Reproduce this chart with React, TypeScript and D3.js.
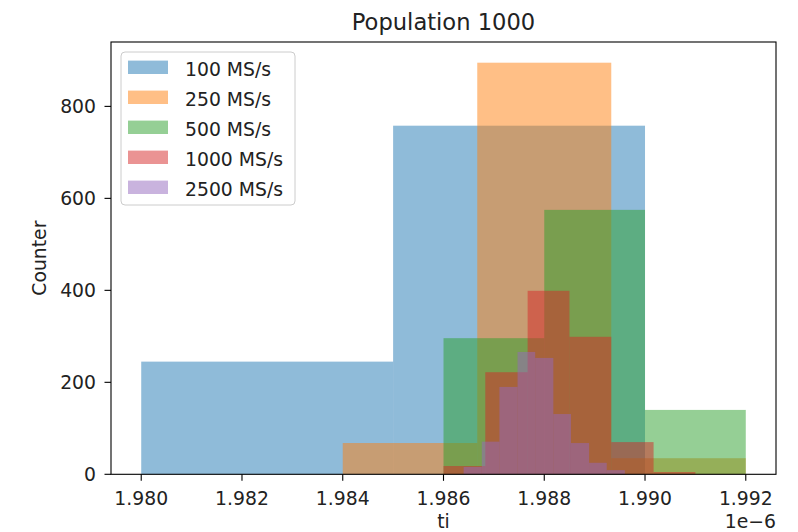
import React from 'react';
import { scaleLinear } from 'd3';

const width = 798;
const height = 532;

// plot area
const left = 111;
const right = 776;
const top = 42;
const bottom = 474.3;

const seriesNames = ['100 MS/s', '250 MS/s', '500 MS/s', '1000 MS/s', '2500 MS/s'];
const colors = ['#1f77b4', '#ff7f0e', '#2ca02c', '#d62728', '#9467bd'];

// bin edges (x 1e-6) and counts per series
const edges100 = [1.980, 1.985, 1.990];
const counts100 = [245, 758];

const edges250 = [1.984, 1.98667, 1.98933, 1.992];
const counts250 = [68, 895, 35];

const edges500 = [1.986, 1.988, 1.990, 1.992];
const counts500 = [296, 575, 140];

const edges1000 = [1.986, 1.98683, 1.98767, 1.9885, 1.98933, 1.99017, 1.991];
const counts1000 = [18, 222, 399, 299, 70, 5];

const edges2500 = [1.9864, 1.98676, 1.98711, 1.98747, 1.98782, 1.98818, 1.98853, 1.98889, 1.98924, 1.9896];
const counts2500 = [16, 71, 190, 266, 253, 131, 68, 25, 9];

const xTicks = [1.980, 1.982, 1.984, 1.986, 1.988, 1.990, 1.992];
const yTicks = [0, 200, 400, 600, 800];

const series = [
  { edges: edges100, counts: counts100 },
  { edges: edges250, counts: counts250 },
  { edges: edges500, counts: counts500 },
  { edges: edges1000, counts: counts1000 },
  { edges: edges2500, counts: counts2500 },
];

const font = 'DejaVu Sans, sans-serif';
const textColor = '#222';

const App = () => {
  const xScale = scaleLinear().domain([1.9794, 1.9926]).range([left, right]);
  const yScale = scaleLinear().domain([0, 940]).range([bottom, top]);

  return (
    <svg
      width={width}
      height={height}
      style={{ position: 'absolute', left: 0, top: 0, background: '#fff' }}
      fontFamily={font}
    >
      {/* bars */}
      {series.map((s, i) =>
        s.counts.map((c, j) => (
          <rect
            key={`${i}-${j}`}
            x={xScale(s.edges[j])}
            y={yScale(c)}
            width={xScale(s.edges[j + 1]) - xScale(s.edges[j])}
            height={yScale(0) - yScale(c)}
            fill={colors[i]}
            fillOpacity={0.5}
          />
        ))
      )}

      {/* frame */}
      <rect
        x={left}
        y={top}
        width={right - left}
        height={bottom - top}
        fill="none"
        stroke="#000"
        strokeWidth={1.1}
      />

      {/* x axis */}
      {xTicks.map(t => (
        <g key={t}>
          <line x1={xScale(t)} x2={xScale(t)} y1={bottom} y2={bottom + 6.5} stroke="#000" strokeWidth={1.1} />
          <text x={xScale(t)} y={505} textAnchor="middle" fontSize={18.8} fill={textColor}>
            {t.toFixed(3)}
          </text>
        </g>
      ))}
      <text x={(left + right) / 2} y={528} textAnchor="middle" fontSize={18.8} fill={textColor}>ti</text>
      <text x={right} y={528} textAnchor="end" fontSize={18.8} fill={textColor}>1e−6</text>

      {/* y axis */}
      {yTicks.map(t => (
        <g key={t}>
          <line x1={left - 6.5} x2={left} y1={yScale(t)} y2={yScale(t)} stroke="#000" strokeWidth={1.1} />
          <text x={96} y={yScale(t) + 7} textAnchor="end" fontSize={18.8} fill={textColor}>
            {t}
          </text>
        </g>
      ))}
      <text
        transform={`translate(46, ${(top + bottom) / 2}) rotate(-90)`}
        textAnchor="middle"
        fontSize={18.8}
        fill={textColor}
      >
        Counter
      </text>

      {/* title */}
      <text x={(left + right) / 2} y={30} textAnchor="middle" fontSize={22.6} fill={textColor}>
        Population 1000
      </text>

      {/* legend */}
      <rect x={121} y={52} width={174} height={153} rx={4} fill="#fff" fillOpacity={0.8} stroke="#cccccc" strokeWidth={1} />
      {seriesNames.map((name, i) => {
        const cy = 67.3 + i * 30;
        return (
          <g key={name}>
            <rect x={128} y={cy - 6.7} width={40} height={13.4} fill={colors[i]} fillOpacity={0.5} />
            <text x={185} y={cy + 8.7} fontSize={18.8} fill={textColor}>{name}</text>
          </g>
        );
      })}
    </svg>
  );
};

export default App;
